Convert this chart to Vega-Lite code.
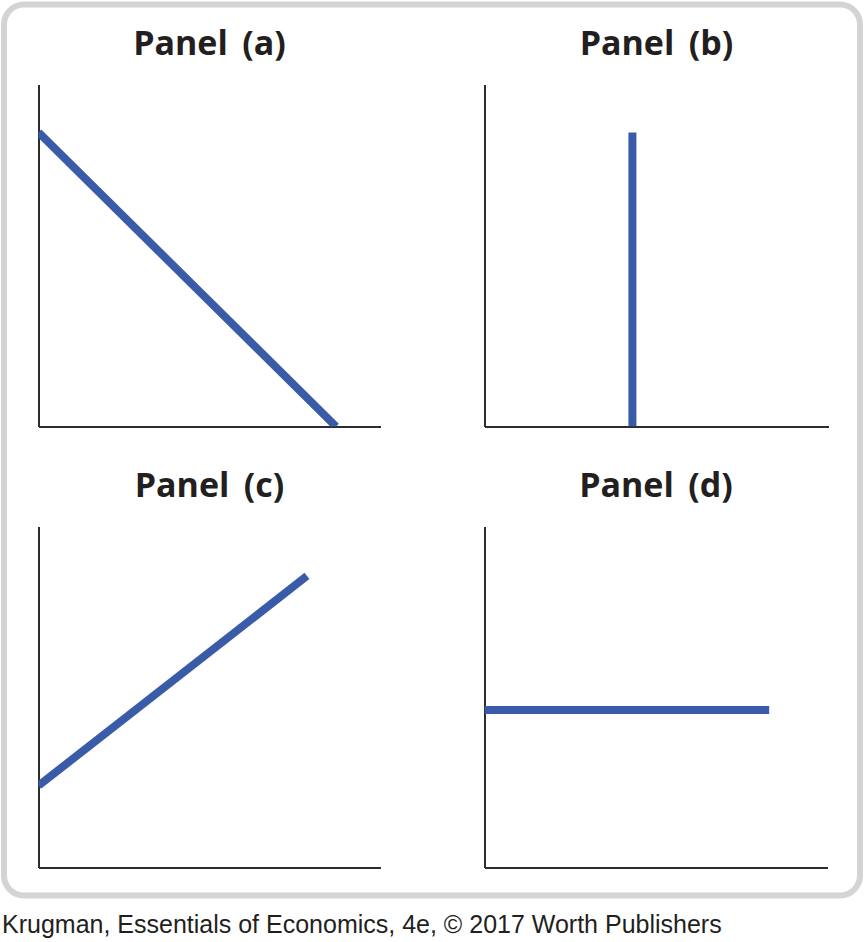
{
  "$schema": "https://vega.github.io/schema/vega-lite/v6.json",
  "background": "white",
  "padding": {"left": 1, "top": 1.5, "right": 0, "bottom": 0},
  "datasets": {
    "lines": [
      {"panel": "a", "x": 0, "y": 8.6},
      {"panel": "a", "x": 8.7, "y": 0},
      {"panel": "b", "x": 4.3, "y": 0},
      {"panel": "b", "x": 4.3, "y": 8.6},
      {"panel": "c", "x": 0, "y": 2.4},
      {"panel": "c", "x": 7.85, "y": 8.55},
      {"panel": "d", "x": 0, "y": 4.62},
      {"panel": "d", "x": 8.3, "y": 4.62}
    ],
    "frame": [{"name": "frame"}]
  },
  "title": {
    "text": "Krugman, Essentials of Economics, 4e, © 2017 Worth Publishers",
    "orient": "bottom",
    "anchor": "start",
    "frame": "group",
    "baseline": "alphabetic",
    "offset": 34.5,
    "dx": -2,
    "font": "Liberation Sans",
    "fontSize": 25,
    "fontWeight": "normal",
    "color": "#231f20"
  },
  "config": {
    "view": {"stroke": null},
    "axis": {"domainColor": "#2d2d2d", "domainWidth": 2, "ticks": false, "labels": false, "grid": false},
    "title": {"font": "Open Sans", "fontSize": 34, "fontWeight": "bold", "color": "#231f20", "anchor": "middle", "baseline": "alphabetic", "offset": 23}
  },
  "columns": 1,
  "align": {"row": "none", "column": "all"},
  "spacing": -871,
  "center": {"row": false, "column": true},
  "concat": [
    {
      "data": {"name": "frame"},
      "width": 856,
      "height": 891,
      "mark": {"type": "rect", "filled": false, "stroke": "#d3d4d6", "strokeWidth": 6, "cornerRadius": 20},
      "encoding": {
        "x": {"datum": 0, "type": "quantitative", "scale": {"domain": [0, 1]}, "axis": null},
        "x2": {"datum": 1},
        "y": {"datum": 0, "type": "quantitative", "scale": {"domain": [0, 1]}, "axis": null},
        "y2": {"datum": 1}
      }
    },
    {
      "spacing": 43,
      "vconcat": [
        {
          "spacing": 104,
          "hconcat": [
            {
              "title": "Panel \u2009(a)",
              "width": 342,
              "height": 342,
              "data": {"name": "lines"},
              "transform": [{"filter": "datum.panel === 'a'"}],
              "mark": {"type": "line", "color": "#3a5ca8", "strokeWidth": 8, "strokeCap": "butt", "clip": true},
              "encoding": {
                "x": {"field": "x", "type": "quantitative", "title": null, "scale": {"domain": [0, 10], "nice": false}},
                "y": {"field": "y", "type": "quantitative", "title": null, "scale": {"domain": [0, 10], "nice": false}}
              }
            },
            {
              "title": "Panel \u2009(b)",
              "width": 344,
              "height": 342,
              "data": {"name": "lines"},
              "transform": [{"filter": "datum.panel === 'b'"}],
              "mark": {"type": "line", "color": "#3a5ca8", "strokeWidth": 8, "strokeCap": "butt", "clip": true},
              "encoding": {
                "x": {"field": "x", "type": "quantitative", "title": null, "scale": {"domain": [0, 10], "nice": false}},
                "y": {"field": "y", "type": "quantitative", "title": null, "scale": {"domain": [0, 10], "nice": false}},
                "order": {"field": "y", "type": "quantitative"}
              }
            }
          ]
        },
        {
          "spacing": 104,
          "hconcat": [
            {
              "title": "Panel \u2009(c)",
              "width": 342,
              "height": 341,
              "data": {"name": "lines"},
              "transform": [{"filter": "datum.panel === 'c'"}],
              "mark": {"type": "line", "color": "#3a5ca8", "strokeWidth": 8, "strokeCap": "butt", "clip": true},
              "encoding": {
                "x": {"field": "x", "type": "quantitative", "title": null, "scale": {"domain": [0, 10], "nice": false}},
                "y": {"field": "y", "type": "quantitative", "title": null, "scale": {"domain": [0, 10], "nice": false}}
              }
            },
            {
              "title": "Panel \u2009(d)",
              "width": 343,
              "height": 341,
              "data": {"name": "lines"},
              "transform": [{"filter": "datum.panel === 'd'"}],
              "mark": {"type": "line", "color": "#3a5ca8", "strokeWidth": 8, "strokeCap": "butt", "clip": true},
              "encoding": {
                "x": {"field": "x", "type": "quantitative", "title": null, "scale": {"domain": [0, 10], "nice": false}},
                "y": {"field": "y", "type": "quantitative", "title": null, "scale": {"domain": [0, 10], "nice": false}}
              }
            }
          ]
        }
      ]
    }
  ]
}
